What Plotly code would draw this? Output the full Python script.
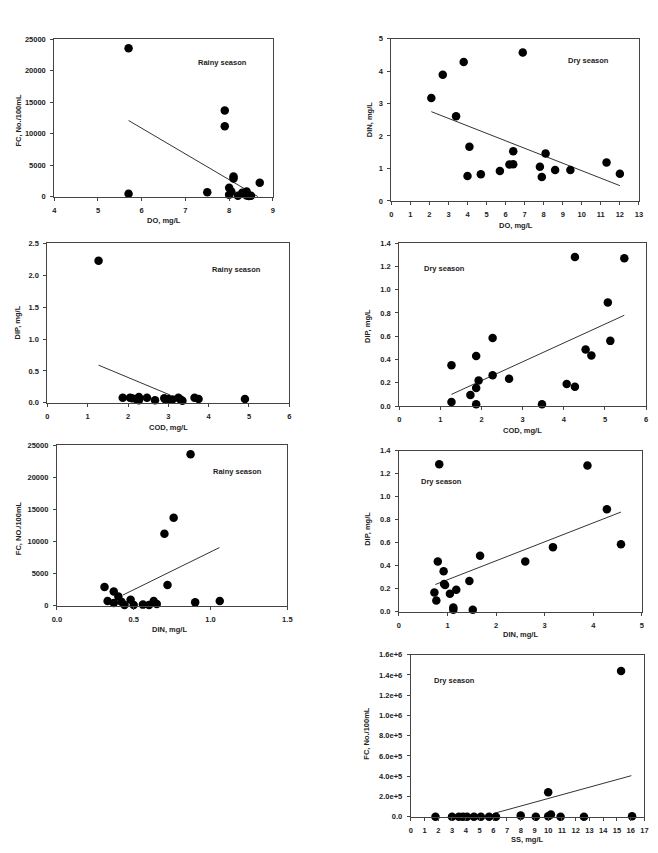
import plotly.graph_objects as go

W, H = 658, 853

# ---------------- data ----------------
# Panel 1: Rainy season, DO vs FC
p1_x = [5.7, 5.7, 7.5, 7.9, 7.9, 8.1, 8.1, 8.0, 8.0, 8.05, 8.2, 8.3, 8.4, 8.4, 8.5, 8.45, 8.7]
p1_y = [23600, 450, 700, 13700, 11200, 3200, 2900, 1400, 300, 800, 150, 600, 800, 200, 150, 100, 2200]
p1_tx = [5.7, 8.66]
p1_ty = [12100, 0]

# Panel 2: Dry season, DO vs DIN
p2_x = [2.1, 2.7, 3.8, 3.4, 4.1, 4.0, 4.7, 5.7, 6.2, 6.4, 6.4, 6.9, 7.8, 7.9, 8.1, 8.6, 9.4, 11.3, 12.0]
p2_y = [3.17, 3.89, 4.28, 2.61, 1.67, 0.77, 0.82, 0.92, 1.12, 1.13, 1.53, 4.57, 1.05, 0.74, 1.46, 0.95, 0.95, 1.18, 0.84]
p2_tx = [2.1, 12.0]
p2_ty = [2.75, 0.47]

# Panel 3: Rainy season, COD vs DIP
p3_x = [1.27, 1.87, 2.05, 2.1, 2.2, 2.27, 2.27, 2.47, 2.67, 2.9, 2.93, 3.0, 3.1, 3.25, 3.3, 3.35, 3.65, 3.75, 4.9]
p3_y = [2.23, 0.08, 0.08, 0.07, 0.06, 0.09, 0.04, 0.08, 0.04, 0.07, 0.05, 0.06, 0.05, 0.08, 0.05, 0.03, 0.08, 0.06, 0.06]
p3_tx = [1.27, 3.05]
p3_ty = [0.59, 0.12]

# Panel 4: Dry season, COD vs DIP
p4_x = [1.27, 1.27, 1.73, 1.87, 1.87, 1.87, 1.93, 2.27, 2.27, 2.67, 3.47, 4.07, 4.27, 4.27, 4.53, 4.67, 5.07, 5.13, 5.47]
p4_y = [0.35, 0.035, 0.095, 0.155, 0.43, 0.015, 0.22, 0.585, 0.265, 0.235, 0.015, 0.19, 0.165, 1.28, 0.485, 0.435, 0.89, 0.56, 1.27]
p4_tx = [1.27, 5.47]
p4_ty = [0.10, 0.78]

# Panel 5: Rainy season, DIN vs FC
p5_x = [0.87, 0.76, 0.70, 0.72, 0.31, 0.37, 0.40, 0.33, 0.37, 0.42, 0.44, 0.48, 0.50, 0.56, 0.60, 0.63, 0.65, 0.90, 1.06]
p5_y = [23600, 13700, 11200, 3200, 2900, 2200, 1400, 700, 400, 600, 100, 900, 100, 150, 100, 700, 250, 500, 700]
p5_tx = [0.43, 1.058]
p5_ty = [1650, 9050]

# Panel 6: Dry season, DIN vs DIP
p6_x = [0.83, 0.80, 0.92, 0.95, 0.93, 0.73, 0.77, 1.05, 1.18, 1.12, 1.12, 1.52, 1.45, 1.67, 2.6, 3.17, 3.88, 4.28, 4.57]
p6_y = [1.28, 0.435, 0.35, 0.23, 0.24, 0.165, 0.095, 0.155, 0.19, 0.035, 0.015, 0.015, 0.265, 0.485, 0.435, 0.56, 1.27, 0.89, 0.585]
p6_tx = [0.75, 4.57]
p6_ty = [0.235, 0.865]

# Panel 7: Dry season, SS vs FC
p7_x = [1.8, 3.0, 3.5, 3.8, 4.1, 4.6, 5.1, 5.7, 6.2, 8.0, 9.1, 10.0, 10.0, 10.2, 10.9, 12.6, 15.3, 16.1]
p7_y = [0, 0, 0, 0, 0, 0, 0, 0, 0, 10000, 0, 240000, 5000, 20000, 0, 0, 1440000, 5000]
p7_tx = [6.0, 16.05]
p7_ty = [30000, 405000]
p7_ticks = [0, 200000, 400000, 600000, 800000, 1000000, 1200000, 1400000, 1600000]
p7_ticktext = ["0.0", "2.0e+5", "4.0e+5", "6.0e+5", "8.0e+5", "1.0e+6", "1.2e+6", "1.4e+6", "1.6e+6"]

# ---------------- layout helpers ----------------
FONT = "Liberation Sans"
TXT = "#222222"
fs = 7.5

def px_x(v):
    return v / W

def px_y(v):
    return 1 - v / H

panels = [
    dict(x=p1_x, y=p1_y, tx=p1_tx, ty=p1_ty, box=(50, 272, 35.7, 194.7), xr=[4, 9], xd=1, yr=[0, 25000], yd=5000,
         yf="d", xf="d", lab="Rainy season", lp=(221, 59), xt="DO, mg/L", xtp=(161.5, 219), yt="FC, No./100mL", ytp=(14, 117)),
    dict(x=p2_x, y=p2_y, tx=p2_tx, ty=p2_ty, box=(392.3, 643.7, 35, 199), xr=[0, 13], xd=1, yr=[0, 5], yd=1,
         yf="d", xf="d", lab="Dry season", lp=(592, 57), xt="DO, mg/L", xtp=(519, 224), yt="DIN, mg/L", ytp=(370, 117)),
    dict(x=p3_x, y=p3_y, tx=p3_tx, ty=p3_ty, box=(43, 288.7, 242, 403), xr=[0, 6], xd=1, yr=[0, 2.5], yd=0.5,
         yf=".1f", xf="d", lab="Rainy season", lp=(235, 268), xt="COD, mg/L", xtp=(166, 428.5), yt="DIP, mg/L", ytp=(13, 322)),
    dict(x=p4_x, y=p4_y, tx=p4_tx, ty=p4_ty, box=(400.3, 651, 241.7, 406.3), xr=[0, 6], xd=1, yr=[0, 1.4], yd=0.2,
         yf=".1f", xf="d", lab="Dry season", lp=(446, 267), xt="COD, mg/L", xtp=(525, 431), yt="DIP, mg/L", ytp=(368, 325)),
    dict(x=p5_x, y=p5_y, tx=p5_tx, ty=p5_ty, box=(52.7, 286.7, 446, 608), xr=[0, 1.5], xd=0.5, yr=[0, 25000], yd=5000,
         yf="d", xf=".1f", lab="Rainy season", lp=(236, 472), xt="DIN, mg/L", xtp=(167, 632), yt="FC, NO./100mL", ytp=(14, 530)),
    dict(x=p6_x, y=p6_y, tx=p6_tx, ty=p6_ty, box=(400, 646.7, 451.3, 614), xr=[0, 5], xd=1, yr=[0, 1.4], yd=0.2,
         yf=".1f", xf="d", lab="Dry season", lp=(443, 483), xt="DIN, mg/L", xtp=(523, 637), yt="DIP, mg/L", ytp=(368, 530)),
    dict(x=p7_x, y=p7_y, tx=p7_tx, ty=p7_ty, box=(412, 649.3, 657.7, 821.3), xr=[0, 17], xd=1, yr=[0, 1600000], yd=None,
         yf=None, xf="d", lab="Dry season", lp=(456, 684), xt="SS, mg/L", xtp=(531, 844), yt="FC, No./100mL", ytp=(367, 737)),
]

fig = go.Figure()
layout = dict(
    width=W, height=H, margin=dict(l=0, r=0, t=0, b=0),
    paper_bgcolor="white", plot_bgcolor="white", showlegend=False,
    font=dict(family=FONT, size=fs, color=TXT),
)
annotations = []

for i, p in enumerate(panels, start=1):
    xa = "x" if i == 1 else f"x{i}"
    ya = "y" if i == 1 else f"y{i}"
    L, R, T, B = p["box"]
    fig.add_trace(go.Scatter(x=p["tx"], y=p["ty"], mode="lines", xaxis=xa, yaxis=ya,
                             line=dict(color="#333333", width=1), hoverinfo="skip", cliponaxis=False))
    fig.add_trace(go.Scatter(x=p["x"], y=p["y"], mode="markers", xaxis=xa, yaxis=ya,
                             marker=dict(color="black", size=8.5, line=dict(width=0)), cliponaxis=False))
    axcommon = dict(showgrid=False, zeroline=False, showline=True, linecolor="#444444", linewidth=1,
                    mirror=True, ticks="outside", ticklen=3, tickwidth=1, tickcolor="#444444",
                    tickfont=dict(family=FONT, size=fs, color=TXT, weight="bold"))
    xdict = dict(axcommon, domain=[px_x(L), px_x(R)], range=p["xr"], tickmode="linear", tick0=p["xr"][0],
                 dtick=p["xd"], anchor=ya, ticklabelstandoff=3)
    if p["xf"] == ".1f":
        xdict["tickformat"] = ".1f"
    ydict = dict(axcommon, domain=[px_y(B), px_y(T)], range=p["yr"], anchor=xa, ticklabelstandoff=3)
    if p["yd"] is not None:
        ydict.update(tickmode="linear", tick0=0, dtick=p["yd"])
        if p["yf"] == ".1f":
            ydict["tickformat"] = ".1f"
        else:
            ydict["tickformat"] = "d"
    else:
        ydict.update(tickmode="array", tickvals=p7_ticks, ticktext=p7_ticktext)
    layout["xaxis" if i == 1 else f"xaxis{i}"] = xdict
    layout["yaxis" if i == 1 else f"yaxis{i}"] = ydict

    annotations.append(dict(text=p["lab"], x=px_x(p["lp"][0]), y=px_y(p["lp"][1]), xref="paper", yref="paper",
                            showarrow=False, xanchor="center", yanchor="middle",
                            font=dict(family=FONT, size=7.5, color=TXT, weight="bold")))
    annotations.append(dict(text=p["xt"], x=px_x(p["xtp"][0]), y=px_y(p["xtp"][1]), xref="paper", yref="paper",
                            showarrow=False, xanchor="center", yanchor="middle",
                            font=dict(family=FONT, size=fs, color=TXT, weight="bold")))
    annotations.append(dict(text=p["yt"], x=px_x(p["ytp"][0]), y=px_y(p["ytp"][1]), xref="paper", yref="paper",
                            showarrow=False, xanchor="center", yanchor="middle", textangle=-90,
                            font=dict(family=FONT, size=fs, color=TXT, weight="bold")))

layout["annotations"] = annotations
fig.update_layout(**layout)
fig.write_html("out.html")
